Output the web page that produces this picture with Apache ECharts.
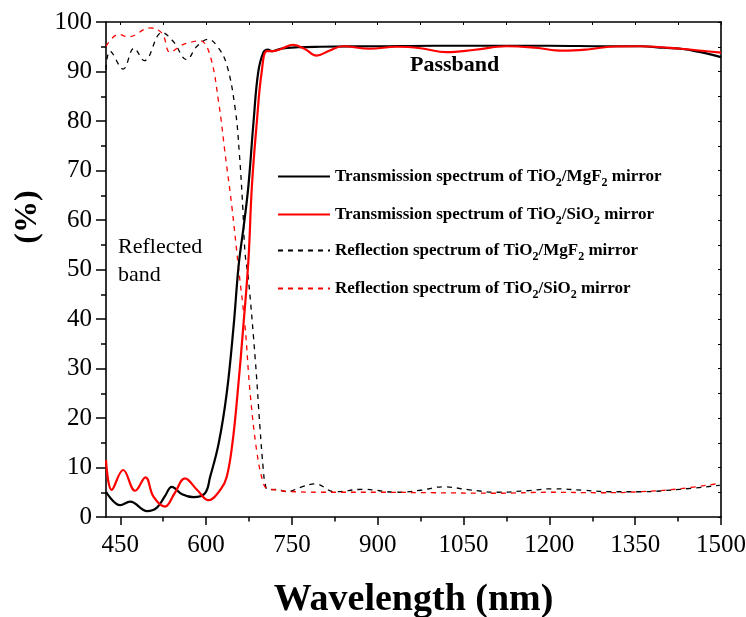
<!DOCTYPE html>
<html>
<head>
<meta charset="utf-8">
<script src="https://cdn.jsdelivr.net/npm/echarts@6/dist/echarts.min.js"></script>
<style>
  html, body { margin: 0; background: #fff; }
  #chart { width: 746px; height: 617px; }
</style>
</head>
<body>
<div id="chart"></div>
<script>
const FONT = '"Liberation Serif", "Times New Roman", serif'

// axis ticks
const xTicks = [450, 600, 750, 900, 1050, 1200, 1350, 1500]
const xMinorTicks = [525, 675, 825, 975, 1125, 1275, 1425]

// transmission, TiO2/MgF2 (black solid)
const tMgF2Nm = [425, 450, 467, 497, 514, 528, 540, 558, 578, 598, 607, 622, 636, 648, 657, 666, 674, 683, 691, 700, 708, 716, 730, 760, 800, 900, 1000, 1100, 1200, 1300, 1360, 1400, 1430, 1460, 1500]
const tMgF2 = [5.1, 2.4, 3.1, 1.2, 1.9, 4.2, 6.1, 4.6, 4.0, 4.8, 8.1, 14.9, 25, 38.5, 51, 59, 67, 80, 89.8, 93.8, 94.4, 94.1, 94.6, 94.9, 95.0, 95.1, 95.2, 95.2, 95.2, 95.1, 95.1, 94.8, 94.6, 94.0, 92.9]

// transmission, TiO2/SiO2 (red solid)
const tSiO2Nm = [425, 435, 455, 476, 494, 508, 528, 545, 563, 584, 604, 625, 636, 646, 655, 665, 674, 680, 689, 697, 706, 717, 732, 752, 772, 793, 815, 839, 886, 933, 975, 1020, 1070, 1125, 1175, 1224, 1270, 1306, 1359, 1430, 1500]
const tSiO2 = [11.5, 5.5, 9.5, 5.3, 8.0, 4.1, 2.1, 4.8, 7.8, 5.5, 3.4, 5.5, 8.1, 14.9, 25, 38.5, 52, 66.8, 80.3, 89.8, 94.1, 94.1, 94.6, 95.4, 94.6, 93.2, 94.2, 95.1, 94.6, 95.0, 94.7, 93.9, 94.4, 95.1, 94.8, 94.2, 94.5, 95.0, 95.1, 94.6, 93.8]

// reflection, TiO2/MgF2 (black dashed)
const rMgF2Nm = [425, 432, 455, 474, 492, 523, 543, 566, 584, 604, 620, 636, 651, 658, 664, 668, 674, 686, 694, 700, 703, 708, 724, 741, 765, 790, 825, 874, 933, 975, 1014, 1060, 1108, 1160, 1206, 1260, 1306, 1359, 1428, 1498]
const rMgF2 = [90.4, 94.1, 90.5, 94.7, 92.2, 97.9, 96.0, 92.4, 95.1, 96.5, 95.0, 91.4, 82.3, 73.6, 62.7, 53.4, 48, 31.7, 18.3, 9.5, 6.8, 5.5, 5.6, 5.1, 6.0, 6.7, 5.1, 5.6, 5.0, 5.4, 6.1, 5.5, 5.0, 5.3, 5.7, 5.4, 5.1, 5.1, 5.6, 6.4]

// reflection, TiO2/SiO2 (red dashed)
const rSiO2Nm = [425, 447, 464, 502, 523, 537, 557, 572, 590, 607, 622, 633, 645, 656, 668, 677, 689, 700, 706, 720, 740, 800, 900, 1000, 1108, 1200, 1289, 1359, 1428, 1498]
const rSiO2 = [95.1, 97.5, 97.0, 98.8, 97.7, 93.9, 95.3, 95.9, 96.2, 93.2, 83.7, 73.6, 62.7, 51, 38.5, 25, 12.9, 6.8, 5.8, 5.5, 5.2, 5.0, 5.0, 4.9, 4.8, 5.0, 4.9, 5.1, 5.7, 6.8]

const seriesNames = [
  'Transmission spectrum of TiO2/MgF2 mirror',
  'Transmission spectrum of TiO2/SiO2 mirror',
  'Reflection spectrum of TiO2/MgF2 mirror',
  'Reflection spectrum of TiO2/SiO2 mirror'
]

const pairs = (xs, ys) => xs.map((x, i) => [x, ys[i]])

const chart = echarts.init(document.getElementById('chart'))

const lineSeries = (name, xs, ys, color, dashed) => ({
  name,
  type: 'line',
  data: pairs(xs, ys),
  smooth: 0.4,
  symbol: 'none',
  silent: true,
  lineStyle: dashed
    ? { color, width: 1.3, type: [5, 5] }
    : { color, width: 2.2 },
  itemStyle: { color }
})

// legend rows, icon centres at about 176 / 214 / 250 / 288
const legendTop = [168, 206, 242, 280]

const option = {
  animation: false,
  backgroundColor: '#fff',
  grid: { left: 106, right: 25, top: 22, bottom: 100, outerBoundsMode: 'none' },
  legend: seriesNames.map((n, i) => ({
    data: [n],
    left: 277,
    top: legendTop[i],
    padding: 0,
    itemWidth: 52,
    itemHeight: 14,
    selectedMode: false,
    itemStyle: { opacity: 0 },
    formatter: name => name.replace(/([A-Za-z])2/g, '$1{s|2}'),
    textStyle: {
      fontFamily: FONT,
      fontWeight: 'bold',
      fontSize: 17,
      color: '#000',
      rich: {
        s: { fontFamily: FONT, fontWeight: 'bold', fontSize: 12, color: '#000', verticalAlign: 'bottom', padding: [12, 0, 0, 0] }
      }
    }
  })),
  xAxis: [
    {
      type: 'value', position: 'bottom', min: 425, max: 1500,
      name: 'Wavelength (nm)', nameLocation: 'middle', nameGap: 64,
      nameTextStyle: { fontFamily: FONT, fontWeight: 'bold', fontSize: 38, color: '#000' },
      axisLine: { lineStyle: { color: '#000', width: 1.6 } },
      axisTick: { customValues: xTicks, length: 8, lineStyle: { color: '#000', width: 1.5 } },
      axisLabel: { customValues: xTicks, formatter: v => String(v), fontFamily: FONT, fontSize: 25, color: '#000', margin: 16 },
      splitLine: { show: false }
    },
    {
      type: 'value', position: 'bottom', min: 425, max: 1500,
      axisLine: { show: false },
      axisTick: { customValues: xMinorTicks, length: 4.5, lineStyle: { color: '#000', width: 1.5 } },
      axisLabel: { show: false },
      splitLine: { show: false }
    },
    {
      type: 'value', position: 'top', min: 425, max: 1500,
      axisLine: { lineStyle: { color: '#000', width: 1.6 } },
      axisTick: { customValues: xTicks.concat(xMinorTicks), inside: true, length: 3, lineStyle: { color: '#000' } },
      axisLabel: { show: false },
      splitLine: { show: false }
    }
  ],
  yAxis: [
    {
      type: 'value', position: 'left', min: 0, max: 100, interval: 10,
      axisLine: { show: true, lineStyle: { color: '#000', width: 1.6 } },
      axisTick: { show: true, length: 10, lineStyle: { color: '#000', width: 1.5 } },
      minorTick: { show: true, splitNumber: 2, length: 5, lineStyle: { color: '#000', width: 1.5 } },
      axisLabel: { fontFamily: FONT, fontSize: 25, color: '#000', margin: 14 },
      splitLine: { show: false }
    },
    {
      type: 'value', position: 'right', min: 0, max: 100, interval: 10,
      axisLine: { show: true, lineStyle: { color: '#000', width: 1.6 } },
      axisTick: { show: true, inside: true, length: 3, lineStyle: { color: '#000' } },
      minorTick: { show: true, splitNumber: 2, length: 3, lineStyle: { color: '#000' } },
      axisLabel: { show: false },
      splitLine: { show: false }
    }
  ],
  graphic: [
    {
      type: 'text', left: 410, top: 54,
      style: { text: 'Passband', fontFamily: FONT, fontWeight: 'bold', fontSize: 22, fill: '#000' }
    },
    {
      type: 'text', left: 118, top: 233,
      style: { text: 'Reflected\nband', fontFamily: FONT, fontSize: 22, lineHeight: 28, fill: '#000' }
    },
    {
      type: 'text', x: 28, y: 217, rotation: Math.PI / 2,
      style: { text: '(%)', fontFamily: FONT, fontWeight: 'bold', fontSize: 32, fill: '#000', align: 'center', verticalAlign: 'middle' }
    }
  ],
  series: [
    lineSeries(seriesNames[2], rMgF2Nm, rMgF2, '#000', true),
    lineSeries(seriesNames[3], rSiO2Nm, rSiO2, '#ff0000', true),
    lineSeries(seriesNames[0], tMgF2Nm, tMgF2, '#000', false),
    lineSeries(seriesNames[1], tSiO2Nm, tSiO2, '#ff0000', false)
  ]
}

chart.setOption(option)
</script>
</body>
</html>
